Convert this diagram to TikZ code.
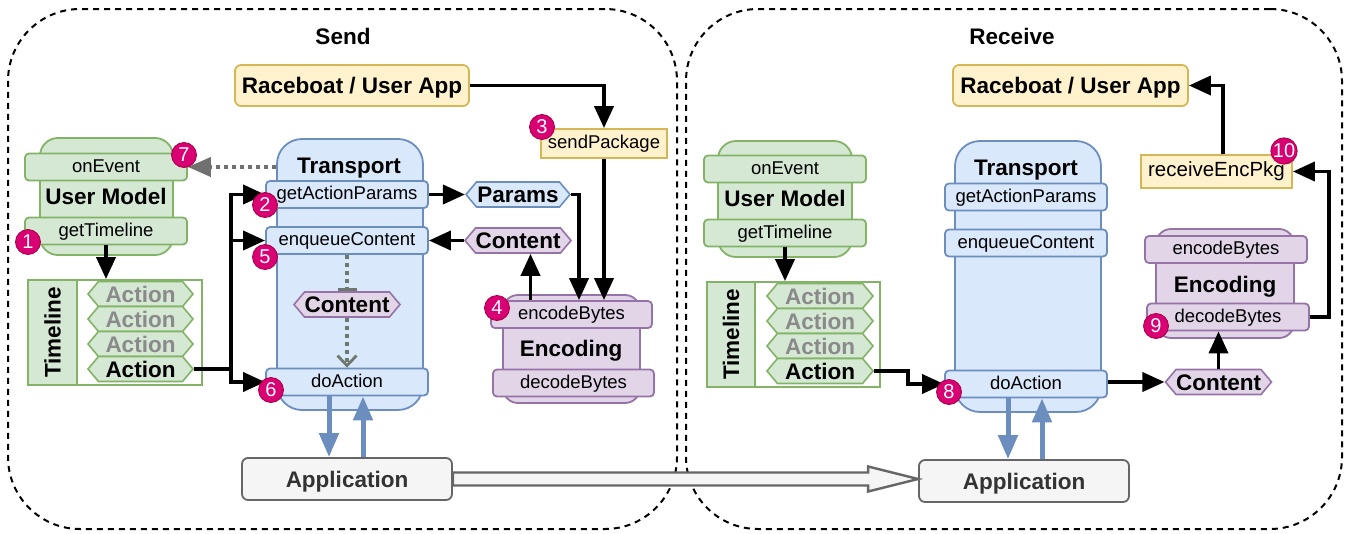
\documentclass[tikz,border=0pt]{standalone}
\usepackage{fontspec}
\setmainfont{Liberation Sans}
\usepackage{xcolor}
\usepackage{tikz}
\usetikzlibrary{arrows.meta, shapes.symbols, calc}

\definecolor{modelfill}{HTML}{D5E8D4}
\definecolor{modeldraw}{HTML}{82B366}
\definecolor{transfill}{HTML}{DAE8FC}
\definecolor{transdraw}{HTML}{6C8EBF}
\definecolor{codecfill}{HTML}{E1D5E7}
\definecolor{codecdraw}{HTML}{9673A6}
\definecolor{userfill}{HTML}{FFF2CC}
\definecolor{userdraw}{HTML}{D6B656}
\definecolor{appfill}{HTML}{F5F5F5}
\definecolor{appdraw}{HTML}{666666}
\definecolor{badgefill}{HTML}{D80073}
\definecolor{badgedraw}{HTML}{A50040}
\definecolor{ghost}{HTML}{8A8A8A}
\definecolor{hintgray}{HTML}{707070}
\definecolor{innergray}{HTML}{6E786E}

\begin{document}
\begin{tikzpicture}[x=1pt, y=-1pt,
  txt/.style={font=\fontsize{18.5}{22}\selectfont, text height=13.3pt, text depth=3pt, inner sep=0pt},
  heading/.style={font=\fontsize{22.5}{26}\selectfont\bfseries, text height=16.2pt, text depth=0pt, inner sep=0pt},
  boxline/.style={draw, line width=1.8pt},
  model/.style={boxline, fill=modelfill, draw=modeldraw},
  trans/.style={boxline, fill=transfill, draw=transdraw},
  codec/.style={boxline, fill=codecfill, draw=codecdraw},
  user/.style={boxline, fill=userfill, draw=userdraw},
  app/.style={boxline, heading, fill=appfill, draw=appdraw, text=black!80, rounded corners=6pt, minimum width=210pt, minimum height=42pt},
  bar/.style={txt, rounded corners=4pt, minimum width=162pt, minimum height=27pt},
  hexa/.style={heading, shape=signal, signal to=west and east, signal pointer angle=100, minimum width=105pt, minimum height=25pt, line width=1.6pt},
  badge/.style={circle, fill=badgefill, draw=badgedraw, line width=0.8pt, text=white, minimum size=25pt, inner sep=0pt, font=\fontsize{20}{21}\selectfont},
  zone/.style={draw, line width=2pt, dash pattern=on 6pt off 5pt, rounded corners=72pt},
  flow/.style={line width=3.8pt, -{Triangle[length=22pt, width=19pt]}},
  hint/.style={line width=4pt, dash pattern=on 4pt off 4pt},
  appflow/.style={draw=transdraw, line width=5pt, -{Triangle[length=24pt, width=19pt]}},
  handoff/.style={draw=appdraw, fill=appfill, line width=2.4pt},
]
\useasboundingbox (0,0) rectangle (1347,533);

%% ---------------- Send ----------------
\node[zone, minimum width=669pt, minimum height=520pt] (sendzone) at (342.5,269) {};
\node[heading] (sendtitle) at (343,36) {Send};

\node[user, heading, rounded corners=6pt, minimum width=234pt, minimum height=41pt] (rb1) at (352,85.5) {Raceboat / User App};
\node[user, txt, minimum width=126pt, minimum height=29pt] (send) at (604,143.5) {sendPackage};

% user model
\node[model, rounded corners=18pt, minimum width=133pt, minimum height=117pt] (um1) at (106.5,196.5) {};
\node[model, bar] (onev1) at (106,167) {onEvent};
\node[heading] (umtitle1) at (106,196) {User Model};
\node[model, bar] (gtl1) at (106,231) {getTimeline};

% timeline
\node[boxline, draw=modeldraw, fill=white, minimum width=174pt, minimum height=105pt] (tl1) at (115,332.5) {};
\node[model, heading, rotate=90, minimum width=105pt, minimum height=49pt] (tlcol1) at (52.5,332.5) {Timeline};
\foreach \y/\n in {294/a, 319/b, 344/c}
  \node[model, hexa, text=ghost] (act1\n) at (140.5,\y) {Action};
\node[model, hexa] (act1d) at (140.5,369) {Action};

% transport
\node[trans, rounded corners=25pt, minimum width=146pt, minimum height=271pt] (tr1) at (350,274.5) {};
\node[heading] (trtitle1) at (349,165) {Transport};
\node[trans, bar] (gapb1) at (347,194.5) {getActionParams};
\node[trans, bar] (enqb1) at (347,240.5) {enqueueContent};
\node[codec, hexa, minimum width=103pt] (cont0) at (347,304.5) {Content};
\node[trans, bar] (doab1) at (347,382) {doAction};

% encoding
\node[codec, rounded corners=15pt, minimum width=137pt, minimum height=108pt] (enc1) at (571.5,349) {};
\node[codec, bar, minimum width=161pt] (encb1) at (571.5,314.5) {encodeBytes};
\node[heading] (enctitle1) at (571,348) {Encoding};
\node[codec, bar, minimum width=161pt] (decb1) at (573.5,383) {decodeBytes};

\node[trans, hexa, minimum width=104pt] (params) at (518,194.5) {Params};
\node[codec, hexa] (cont1) at (518,240.5) {Content};

\node[app] (app1) at (347,479) {Application};

%% ---------------- Receive ----------------
\node[zone, minimum width=656pt, minimum height=520pt] (recvzone) at (1014,269) {};
\node[heading] (recvtitle) at (1012,36) {Receive};

\node[user, heading, rounded corners=6pt, minimum width=235pt, minimum height=41pt] (rb2) at (1070.5,85.5) {Raceboat / User App};
\node[user, txt, font=\fontsize{20.5}{24}\selectfont, minimum width=151pt, minimum height=33pt] (recv) at (1216.5,171.5) {receiveEncPkg};

% user model
\node[model, rounded corners=18pt, minimum width=134pt, minimum height=116pt] (um2) at (785,199) {};
\node[model, bar] (onev2) at (785,169) {onEvent};
\node[heading] (umtitle2) at (785,198) {User Model};
\node[model, bar] (gtl2) at (785,233) {getTimeline};

% timeline
\node[boxline, draw=modeldraw, fill=white, minimum width=173pt, minimum height=105pt] (tl2) at (793.5,334.5) {};
\node[model, heading, rotate=90, minimum width=105pt, minimum height=48pt] (tlcol2) at (731,334.5) {Timeline};
\foreach \y/\n in {296/a, 321/b, 346/c}
  \node[model, hexa, text=ghost, minimum width=106pt] (act2\n) at (820,\y) {Action};
\node[model, hexa, minimum width=106pt] (act2d) at (820,371) {Action};

% transport
\node[trans, rounded corners=25pt, minimum width=146pt, minimum height=271pt] (tr2) at (1028,276.5) {};
\node[heading] (trtitle2) at (1026,167.5) {Transport};
\node[trans, bar] (gapb2) at (1026,197) {getActionParams};
\node[trans, bar] (enqb2) at (1026,243) {enqueueContent};
\node[trans, bar] (doab2) at (1026,384) {doAction};

% encoding
\node[codec, rounded corners=15pt, minimum width=138pt, minimum height=109pt] (enc2) at (1225,283.5) {};
\node[codec, bar] (encb2) at (1226,249.5) {encodeBytes};
\node[heading] (enctitle2) at (1225,284) {Encoding};
\node[codec, bar] (decb2) at (1228,317) {decodeBytes};

\node[codec, hexa, minimum width=103pt] (cont2) at (1218.5,382) {Content};

\node[app] (app2) at (1024,481) {Application};

%% ---------------- connectors ----------------
\coordinate (up1) at ([xshift=-41pt]encb1.north);
\coordinate (dn1) at ([xshift=-18pt]doab1.south);
\coordinate (rt1) at ([xshift=16pt]doab1.south);
\coordinate (dn2) at ([xshift=-18pt]doab2.south);
\coordinate (rt2) at ([xshift=16pt]doab2.south);
\coordinate (tip) at (app2.west |- app1.east);

% send path
\draw[flow] (rb1.east) -| (send.north);
\path[flow]
  (send.south) edge (send.south |- encb1.north)
  (gapb1.east) edge (params.west)
  (cont1.west) edge (enqb1.east)
  (up1) edge (up1 |- cont1.south)
  (gtl1.south) edge (gtl1.south |- tl1.north);
\draw[flow] (params.east) -| ([xshift=7.5pt]encb1.north);
\draw[flow] (act1d.east) -- ++(37,0) |- (gapb1.west);
\draw[flow] (act1d.east) -- ++(37,0) |- (enqb1.west);
\draw[flow] (act1d.east) -- ++(37,0) |- (doab1.west);

\draw[hint, draw=hintgray, -{Triangle[length=23pt, width=19pt]}] (onev1.east -| tr1.west) -- (onev1.east);
\draw[hint, draw=innergray, -{Bar[width=19pt, line width=2.8pt]}] (enqb1.south) -- (cont0.north);
\draw[hint, draw=innergray, -{Straight Barb[length=10pt, width=19pt, line width=2.8pt]}] (cont0.south) -- (doab1.north);

\draw[appflow] (dn1) -- (dn1 |- app1.north);
\draw[appflow] (rt1 |- app1.north) -- (rt1);

% hand-off between the two applications
\draw[handoff] ($(app1.east)+(0,-6.5)$) -- ($(tip)+(-50,-6.5)$) -- ($(tip)+(-50,-12.5)$) -- (tip)
  -- ($(tip)+(-50,12.5)$) -- ($(tip)+(-50,6.5)$) -- ($(app1.east)+(0,6.5)$) -- cycle;

% receive path
\draw[flow] (act2d.east) -- ++(34,0) |- (doab2.west);
\path[flow]
  (gtl2.south) edge (gtl2.south |- tl2.north)
  (cont2.west -| doab2.east) edge (cont2.west)
  (cont2.north) edge (cont2.north |- decb2.south);
\draw[flow] (decb2.east) -- ++(19,0) |- (recv.east);
\draw[flow] ([xshift=6.5pt]recv.north) |- (rb2.east);

\draw[appflow] (dn2) -- (dn2 |- app2.north);
\draw[appflow] (rt2 |- app2.north) -- (rt2);

%% ---------------- step badges ----------------
\node[badge] (b1) at (28,242) {1};
\node[badge] (b2) at (265,205) {2};
\node[badge] (b3) at (542,127) {3};
\node[badge] (b4) at (497,308) {4};
\node[badge] (b5) at (265,257) {5};
\node[badge] (b6) at (271,390) {6};
\node[badge] (b7) at (184,155) {7};
\node[badge] (b8) at (949,392) {8};
\node[badge] (b9) at (1156,326) {9};
\node[badge] (b10) at (1284,151) {10};
\end{tikzpicture}
\end{document}
